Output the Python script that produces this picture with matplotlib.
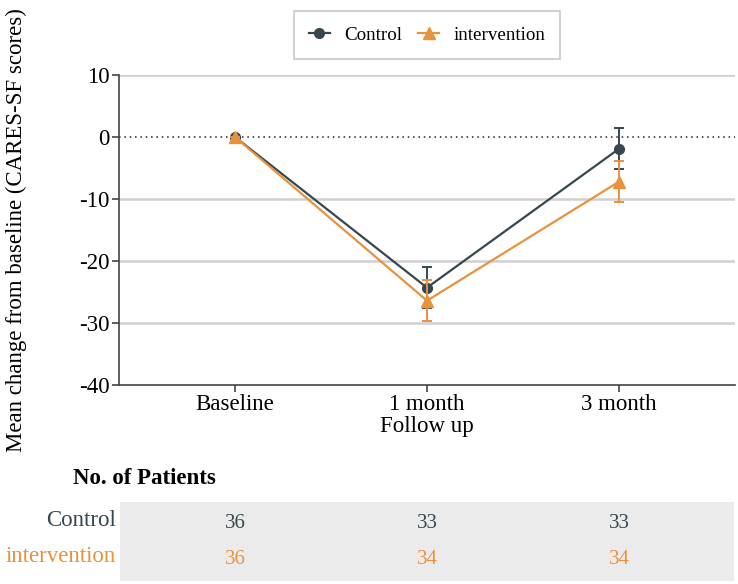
import matplotlib
matplotlib.use("Agg")
import matplotlib.pyplot as plt
from matplotlib.patches import Rectangle
from matplotlib.lines import Line2D

plt.rcParams['font.family'] = ['Liberation Serif', 'DejaVu Serif']
plt.rcParams['axes.unicode_minus'] = False

categories = ["Baseline", "1 month", "3 month"]
control_mean = [0.0, -24.3, -1.9]
control_err = [0.0, 3.3, 3.3]
interv_mean = [0.0, -26.4, -7.2]
interv_err = [0.0, 3.3, 3.3]
n_control = [36, 33, 33]
n_interv = [36, 34, 34]
yticks = [10, 0, -10, -20, -30, -40]

c_ctrl = "#37474f"
c_int = "#e8923e"
FS = 16.5

fig = plt.figure(figsize=(7.38, 5.84), dpi=100)
ax = fig.add_axes([119/738, 1-385/584, (735-119)/738, (385-75)/584])

x = list(range(len(categories)))
for yv in yticks:
    if yv == 0:
        ax.axhline(yv, color="#222222", lw=1.1, ls=(0, (1, 2.5)), zorder=1)
    elif yv != -40:
        ax.axhline(yv, color="#d0d0d0", lw=1.8, zorder=0)

ax.errorbar(x, control_mean, yerr=control_err, color=c_ctrl, lw=1.6, marker="o", ms=7,
            capsize=3.5, capthick=1.4, elinewidth=1.4, zorder=3)
ax.errorbar(x, interv_mean, yerr=interv_err, color=c_int, lw=1.6, marker="^", ms=8.5,
            capsize=3.5, capthick=1.4, elinewidth=1.4, zorder=4)

ax.set_xlim(-0.604, 2.604)
ax.set_ylim(-40, 10)
ax.set_yticks(yticks)
ax.set_xticks(x)
ax.set_xticklabels(categories)
for s in ["top", "right"]:
    ax.spines[s].set_visible(False)
for s in ["left", "bottom"]:
    ax.spines[s].set_color("#444444")
    ax.spines[s].set_linewidth(1.2)
ax.tick_params(axis="both", labelsize=FS, length=5, width=1.2, color="#444444", pad=1.5)
ax.set_xlabel("Follow up", fontsize=FS, labelpad=1)
ax.set_ylabel("Mean change from baseline (CARES-SF scores)", fontsize=FS, labelpad=38)

handles = [Line2D([], [], color=c_ctrl, marker="o", ms=7, lw=1.6),
           Line2D([], [], color=c_int, marker="^", ms=8.5, lw=1.6)]
leg = fig.legend(handles, ["Control", "intervention"], ncol=2, loc="upper center",
                 bbox_to_anchor=(427/738, 0.997), fontsize=13.7, frameon=True, fancybox=False,
                 handlelength=1.1, columnspacing=0.85, borderpad=0.8, handletextpad=0.75)
leg.get_frame().set_edgecolor("#bbbbbb")
leg.get_frame().set_linewidth(1.2)

# Table
fig.patches.append(Rectangle((120/738, 1-581/584), (734-120)/738, (581-502)/584,
                             transform=fig.transFigure, facecolor="#ebebeb", edgecolor="none"))
fig.text(73/738, 1-479/584, "No. of Patients", fontsize=FS, fontweight="bold",
         ha="left", va="center")
rows = [("Control", n_control, c_ctrl, 521), ("intervention", n_interv, c_int, 557)]
for label, vals, col, ypx in rows:
    fig.text(116/738, 1-ypx/584, label, fontsize=FS, color=col, ha="right", va="center")
    for xi, v in zip(x, vals):
        xf = ax.transData.transform((xi, 0))[0] / fig.bbox.width
        fig.text(xf, 1-(ypx+2)/584, str(v), fontsize=15, color=col, ha="center", va="center")

fig.savefig("out.png", dpi=100)
